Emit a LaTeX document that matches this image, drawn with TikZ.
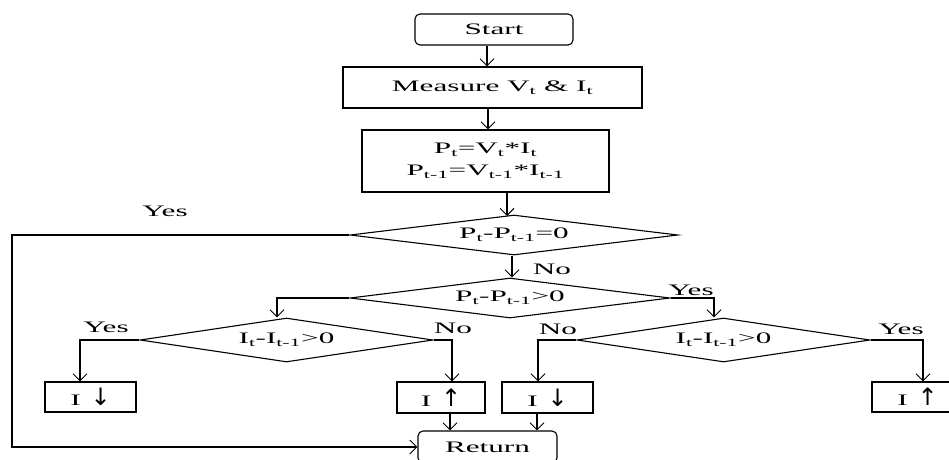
\documentclass[tikz,border=0pt]{standalone}
\usepackage{fontspec}
\setmainfont{Liberation Serif}[FakeStretch=1.95]
\newfontfamily\arrowfont{DejaVu Sans}
\usetikzlibrary{arrows.meta,shapes.geometric}
\newcommand{\dnarrow}{{\arrowfont\fontsize{24}{24}\selectfont ↓}}
\newcommand{\uparr}{{\arrowfont\fontsize{24}{24}\selectfont ↑}}
\begin{document}
\begin{tikzpicture}[x=1pt,y=-1pt,
  font=\fontsize{16}{22}\selectfont,
  line width=1.1pt,
  arr/.style={-{Straight Barb[length=7pt,width=14pt,line width=1pt]}},
  box/.style={draw,rectangle,inner sep=0pt},
  rbox/.style={draw,rectangle,rounded corners=5pt,inner sep=0pt},
  dia/.style={draw,diamond,inner sep=0pt},
  lbl/.style={inner sep=0pt}]
\clip (0,0) rectangle (949,459);
% process boxes
\node[rbox,minimum width=158pt,minimum height=31pt] (start) at (494,29.5) {Start};
\node[box,minimum width=299pt,minimum height=41pt] (meas) at (492.5,87.5) {Measure V\textsubscript{t} \& I\textsubscript{t}};
\node[box,minimum width=247pt,minimum height=62pt,align=center] (pow) at (485.5,161) {P\textsubscript{t}=V\textsubscript{t}*I\textsubscript{t}\\P\textsubscript{t-1}=V\textsubscript{t-1}*I\textsubscript{t-1}};
% decisions
\node[dia,aspect=8.2,minimum width=328pt,minimum height=40pt] (d1) at (514,235) {P\textsubscript{t}-P\textsubscript{t-1}=0};
\node[dia,aspect=8,minimum width=320pt,minimum height=40pt] (d2) at (510,298) {P\textsubscript{t}-P\textsubscript{t-1}>0};
\node[dia,aspect=6.66,minimum width=293pt,minimum height=44pt] (d3) at (286.5,340) {I\textsubscript{t}-I\textsubscript{t-1}>0};
\node[dia,aspect=6.66,minimum width=293pt,minimum height=44pt] (d4) at (723.5,340) {I\textsubscript{t}-I\textsubscript{t-1}>0};
% action boxes
\node[box,minimum width=91pt,minimum height=30pt] (b1) at (90.5,397) {I\hspace{10pt}\dnarrow};
\node[box,minimum width=88pt,minimum height=31pt] (b2) at (441,397.5) {I\hspace{10pt}\uparr};
\node[box,minimum width=91pt,minimum height=31pt] (b3) at (547.5,397.5) {I\hspace{10pt}\dnarrow};
\node[box,minimum width=91pt,minimum height=30pt] (b4) at (917.5,397) {I\hspace{10pt}\uparr};
\node[rbox,minimum width=139pt,minimum height=32pt] (ret) at (487.5,447) {Return};
% labels
\node[lbl] (y1) at (165,211) {Yes};
\node[lbl] (n1) at (552,269) {No};
\node[lbl] (y2) at (691,290) {Yes};
\node[lbl] (y3) at (106,327) {Yes};
\node[lbl] (n3) at (453,328) {No};
\node[lbl] (n4) at (558,329) {No};
\node[lbl] (y4) at (901,329) {Yes};
% connectors
\draw[arr] (487,0 |- start.south) -- (487,0 |- meas.north);
\draw[arr] (488,0 |- meas.south) -- (488,0 |- pow.north);
\draw[arr] (507,0 |- pow.south) -- (507,216);
\draw[arr] (512,0 |- d1.south) -- (512,0 |- d2.north);
\draw[arr] (d1.west) -- (12,235) -- (12,447) -- (ret.west);
\draw[arr] (d2.west) -- (277,298) -- (277,0 |- d3.north);
\draw[arr] (d2.east) -- (714,298) -- (714,0 |- d4.north);
\draw[arr] (d3.west) -- (80,340) -- (80,0 |- b1.north);
\draw[arr] (d3.east) -- (452,340) -- (452,0 |- b2.north);
\draw[arr] (d4.west) -- (538,340) -- (538,0 |- b3.north);
\draw[arr] (d4.east) -- (923,340) -- (923,0 |- b4.north);
\draw[arr] (450,0 |- b2.south) -- (450,0 |- ret.north);
\draw[arr] (537,0 |- b3.south) -- (537,0 |- ret.north);
\end{tikzpicture}
\end{document}
